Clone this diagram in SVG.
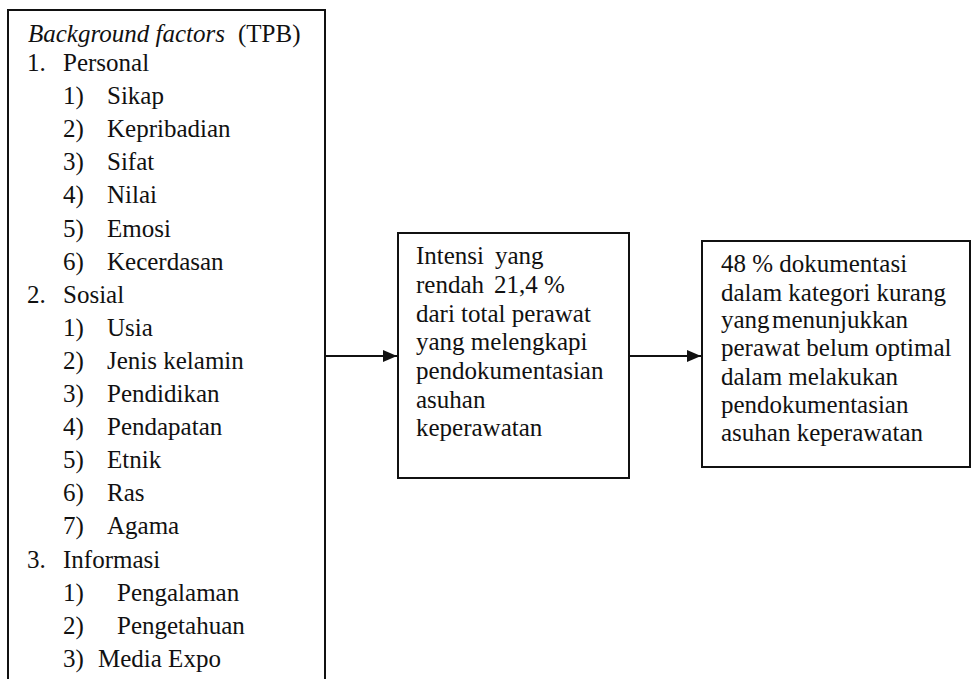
<svg xmlns="http://www.w3.org/2000/svg" width="974" height="679" viewBox="0 0 974 679">
<style>
.box{fill:#fff;stroke:#111;stroke-width:2}
.t{font-size:25px;fill:#111}
.i{font-style:italic}
.con{stroke:#111;stroke-width:2;fill:none}
</style>
<defs>
<marker id="ah" markerWidth="14" markerHeight="12" refX="14" refY="6" orient="auto" markerUnits="userSpaceOnUse">
<path d="M0,0 L14,6 L0,12 Z" fill="#111"/>
</marker>
</defs>
<rect width="974" height="679" fill="#fff"/>
<g id="background-factors" font-family="Liberation Serif, DejaVu Serif, serif">
<rect class="box" x="8" y="10" width="317" height="700"/>
<text class="t" x="28" y="42"><tspan class="i">Background factors</tspan><tspan x="238">(TPB)</tspan></text>
<text class="t" x="27" y="71">1.<tspan x="63">Personal</tspan></text>
<text class="t" x="63" y="104.1">1)<tspan x="107">Sikap</tspan></text>
<text class="t" x="63" y="137.2">2)<tspan x="107">Kepribadian</tspan></text>
<text class="t" x="63" y="170.3">3)<tspan x="107">Sifat</tspan></text>
<text class="t" x="63" y="203.4">4)<tspan x="107">Nilai</tspan></text>
<text class="t" x="63" y="236.5">5)<tspan x="107">Emosi</tspan></text>
<text class="t" x="63" y="269.6">6)<tspan x="107">Kecerdasan</tspan></text>
<text class="t" x="27" y="302.7">2.<tspan x="63">Sosial</tspan></text>
<text class="t" x="63" y="335.8">1)<tspan x="107">Usia</tspan></text>
<text class="t" x="63" y="368.9">2)<tspan x="107">Jenis kelamin</tspan></text>
<text class="t" x="63" y="402">3)<tspan x="107">Pendidikan</tspan></text>
<text class="t" x="63" y="435.1">4)<tspan x="107">Pendapatan</tspan></text>
<text class="t" x="63" y="468.2">5)<tspan x="107">Etnik</tspan></text>
<text class="t" x="63" y="501.3">6)<tspan x="107">Ras</tspan></text>
<text class="t" x="63" y="534.4">7)<tspan x="107">Agama</tspan></text>
<text class="t" x="27" y="567.5">3.<tspan x="63">Informasi</tspan></text>
<text class="t" x="63" y="600.6">1)<tspan x="117">Pengalaman</tspan></text>
<text class="t" x="63" y="633.7">2)<tspan x="117">Pengetahuan</tspan></text>
<text class="t" x="63" y="666.8">3)<tspan x="98">Media Expo</tspan></text>
</g>
<g id="intensi" font-family="Liberation Serif, DejaVu Serif, serif">
<rect class="box" x="398" y="233" width="231" height="245"/>
<text class="t" x="416" y="264">Intensi<tspan x="495">yang</tspan></text>
<text class="t" x="416" y="293">rendah<tspan x="494">21,4 %</tspan></text>
<text class="t" x="416" y="322">dari total perawat</text>
<text class="t" x="416" y="350">yang melengkapi</text>
<text class="t" x="416" y="379">pendokumentasian</text>
<text class="t" x="416" y="408">asuhan</text>
<text class="t" x="416" y="436">keperawatan</text>
</g>
<g id="dokumentasi" font-family="Liberation Serif, DejaVu Serif, serif">
<rect class="box" x="702" y="241" width="268" height="226"/>
<text class="t" x="721" y="272">48 % dokumentasi</text>
<text class="t" x="721" y="301">dalam kategori kurang</text>
<text class="t" x="721" y="328">yang<tspan x="772">menunjukkan</tspan></text>
<text class="t" x="721" y="356">perawat belum optimal</text>
<text class="t" x="721" y="385">dalam melakukan</text>
<text class="t" x="721" y="413">pendokumentasian</text>
<text class="t" x="721" y="441">asuhan keperawatan</text>
</g>
<g id="connectors">
<line class="con" x1="325" y1="356" x2="397" y2="356" marker-end="url(#ah)"/>
<line class="con" x1="629" y1="356" x2="701" y2="356" marker-end="url(#ah)"/>
</g>
</svg>
